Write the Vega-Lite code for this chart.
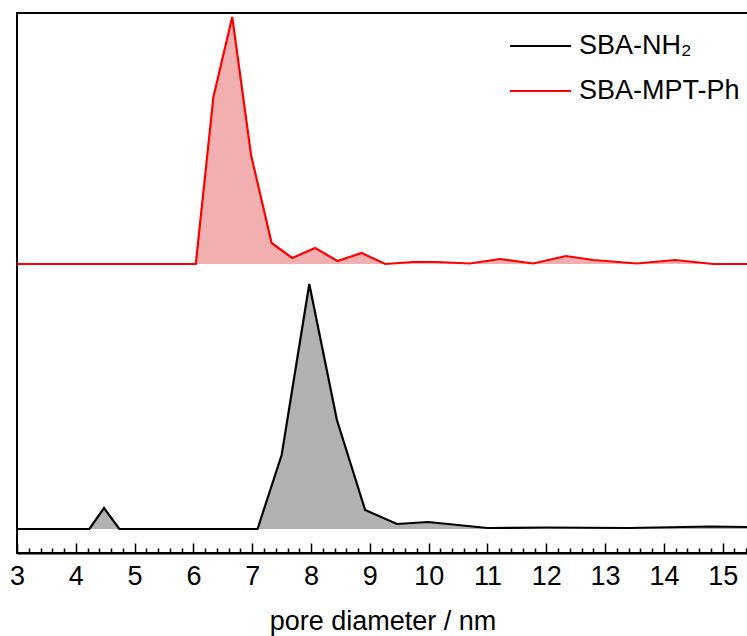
{
  "$schema": "https://vega.github.io/schema/vega-lite/v6.json",
  "width": 731,
  "height": 540,
  "autosize": "none",
  "padding": {"left": 17, "top": 13, "right": 0, "bottom": 83},
  "background": "white",
  "config": {
    "view": {"stroke": "black", "strokeWidth": 2},
    "font": "Liberation Sans"
  },
  "datasets": {
    "psd": [
      {"d": 3.0, "v": 24, "sample": "SBA-NH₂"},
      {"d": 4.23, "v": 24, "sample": "SBA-NH₂"},
      {"d": 4.48, "v": 45, "sample": "SBA-NH₂"},
      {"d": 4.74, "v": 24, "sample": "SBA-NH₂"},
      {"d": 7.09, "v": 24, "sample": "SBA-NH₂"},
      {"d": 7.5, "v": 98, "sample": "SBA-NH₂"},
      {"d": 7.97, "v": 269, "sample": "SBA-NH₂"},
      {"d": 8.44, "v": 133, "sample": "SBA-NH₂"},
      {"d": 8.92, "v": 43, "sample": "SBA-NH₂"},
      {"d": 9.46, "v": 29, "sample": "SBA-NH₂"},
      {"d": 9.99, "v": 31, "sample": "SBA-NH₂"},
      {"d": 11.0, "v": 25, "sample": "SBA-NH₂"},
      {"d": 12.0, "v": 25.5, "sample": "SBA-NH₂"},
      {"d": 13.4, "v": 25, "sample": "SBA-NH₂"},
      {"d": 14.8, "v": 26.5, "sample": "SBA-NH₂"},
      {"d": 15.43, "v": 26, "sample": "SBA-NH₂"},
      {"d": 3.0, "v": 289, "sample": "SBA-MPT-Ph"},
      {"d": 6.04, "v": 289, "sample": "SBA-MPT-Ph"},
      {"d": 6.34, "v": 456, "sample": "SBA-MPT-Ph"},
      {"d": 6.66, "v": 536, "sample": "SBA-MPT-Ph"},
      {"d": 6.98, "v": 398, "sample": "SBA-MPT-Ph"},
      {"d": 7.33, "v": 310, "sample": "SBA-MPT-Ph"},
      {"d": 7.68, "v": 295, "sample": "SBA-MPT-Ph"},
      {"d": 8.07, "v": 305, "sample": "SBA-MPT-Ph"},
      {"d": 8.45, "v": 292, "sample": "SBA-MPT-Ph"},
      {"d": 8.86, "v": 300, "sample": "SBA-MPT-Ph"},
      {"d": 9.26, "v": 289, "sample": "SBA-MPT-Ph"},
      {"d": 9.74, "v": 291, "sample": "SBA-MPT-Ph"},
      {"d": 10.14, "v": 291, "sample": "SBA-MPT-Ph"},
      {"d": 10.7, "v": 289.5, "sample": "SBA-MPT-Ph"},
      {"d": 11.21, "v": 294, "sample": "SBA-MPT-Ph"},
      {"d": 11.78, "v": 289.5, "sample": "SBA-MPT-Ph"},
      {"d": 12.33, "v": 297, "sample": "SBA-MPT-Ph"},
      {"d": 12.8, "v": 293, "sample": "SBA-MPT-Ph"},
      {"d": 13.54, "v": 289.5, "sample": "SBA-MPT-Ph"},
      {"d": 14.19, "v": 293, "sample": "SBA-MPT-Ph"},
      {"d": 14.84, "v": 289, "sample": "SBA-MPT-Ph"},
      {"d": 15.43, "v": 289, "sample": "SBA-MPT-Ph"}
    ]
  },
  "data": {"name": "psd"},
  "encoding": {
    "x": {
      "field": "d",
      "type": "quantitative",
      "scale": {"domain": [3, 15.43], "nice": false, "zero": false},
      "axis": {
        "title": "pore diameter / nm",
        "titleFontSize": 27,
        "titleFontWeight": "normal",
        "titleColor": "black",
        "titlePadding": 14,
        "values": [3, 3.2, 3.4, 3.6, 3.8, 4, 4.2, 4.4, 4.6, 4.8, 5, 5.2, 5.4, 5.6, 5.8, 6, 6.2, 6.4, 6.6, 6.8, 7, 7.2, 7.4, 7.6, 7.8, 8, 8.2, 8.4, 8.6, 8.8, 9, 9.2, 9.4, 9.6, 9.8, 10, 10.2, 10.4, 10.6, 10.8, 11, 11.2, 11.4, 11.6, 11.8, 12, 12.2, 12.4, 12.6, 12.8, 13, 13.2, 13.4, 13.6, 13.8, 14, 14.2, 14.4, 14.6, 14.8, 15, 15.2, 15.4],
        "labelExpr": "abs(datum.value - round(datum.value)) < 0.01 ? format(datum.value, 'd') : ''",
        "labelFontSize": 27,
        "labelColor": "black",
        "labelPadding": 20,
        "labelFlush": false,
        "labelOverlap": false,
        "tickSize": {"condition": {"test": "abs(datum.value - round(datum.value)) < 0.01", "value": -10}, "value": -5},
        "tickColor": "black",
        "tickWidth": 1.5,
        "domainColor": "black",
        "domainWidth": 2,
        "grid": false
      }
    },
    "y": {
      "field": "v",
      "type": "quantitative",
      "scale": {"domain": [0, 540], "nice": false, "zero": false},
      "axis": null
    }
  },
  "layer": [
    {
      "transform": [{"filter": "datum.sample === 'SBA-MPT-Ph'"}],
      "mark": {"type": "area", "fill": "#f2afaf", "opacity": 1},
      "encoding": {"y2": {"datum": 289}}
    },
    {
      "transform": [{"filter": "datum.sample === 'SBA-NH₂'"}],
      "mark": {"type": "area", "fill": "#b2b2b2", "opacity": 1},
      "encoding": {"y2": {"datum": 24}}
    },
    {
      "mark": {"type": "line", "strokeWidth": 2.2},
      "encoding": {
        "color": {
          "field": "sample",
          "type": "nominal",
          "scale": {"domain": ["SBA-NH₂", "SBA-MPT-Ph"], "range": ["black", "#ff0000"]},
          "legend": {
            "title": null,
            "orient": "none",
            "legendX": 492,
            "legendY": 1.5,
            "padding": 0,
            "symbolType": "stroke",
            "symbolSize": 3721,
            "symbolStrokeWidth": 2,
            "labelFontSize": 27,
            "labelColor": "black",
            "labelOffset": 7,
            "labelLimit": 300,
            "rowPadding": -22
          }
        }
      }
    }
  ]
}
